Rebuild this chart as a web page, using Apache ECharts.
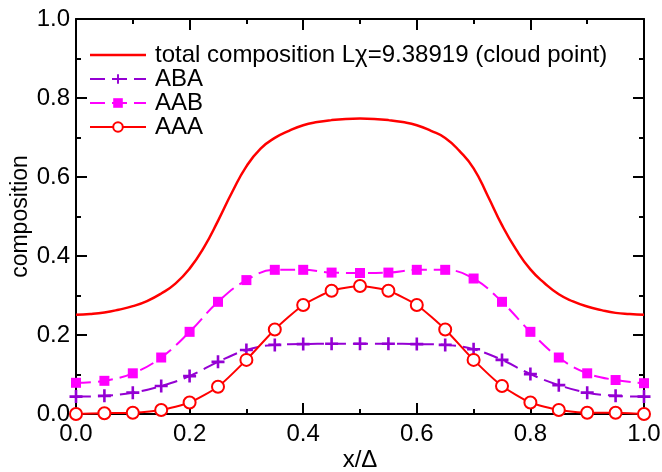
<!DOCTYPE html>
<html>
<head>
<meta charset="utf-8">
<script src="https://cdn.jsdelivr.net/npm/echarts@6/dist/echarts.min.js"></script>
<style>
  html, body { margin: 0; padding: 0; background: #fff; }
  #chart { width: 662px; height: 472px; }
</style>
</head>
<body>
<div id="chart"></div>
<script>
// ---- data ----
const xMarkers = [0.00,0.05,0.10,0.15,0.20,0.25,0.30,0.35,0.40,0.45,0.50,0.55,0.60,0.65,0.70,0.75,0.80,0.85,0.90,0.95,1.00];
const ABA = [0.044,0.046,0.054,0.071,0.096,0.132,0.162,0.175,0.177,0.178,0.178,0.178,0.177,0.175,0.164,0.137,0.101,0.073,0.054,0.046,0.044];
const AAB = [0.079,0.084,0.103,0.143,0.208,0.284,0.339,0.365,0.365,0.358,0.357,0.358,0.365,0.365,0.343,0.284,0.208,0.143,0.103,0.086,0.078];
const AAA = [0.000,0.002,0.003,0.010,0.029,0.069,0.137,0.214,0.276,0.312,0.324,0.312,0.276,0.214,0.137,0.071,0.029,0.010,0.003,0.003,0.000];

const totalX = [0.000,0.025,0.050,0.075,0.100,0.125,0.150,0.175,0.200,0.225,0.250,0.275,0.300,0.325,0.350,0.375,0.400,0.425,0.450,0.475,0.500,
                0.525,0.550,0.575,0.600,0.625,0.650,0.675,0.700,0.725,0.750,0.775,0.800,0.825,0.850,0.875,0.900,0.925,0.950,0.975,1.000];
const totalY = [0.251,0.253,0.257,0.264,0.273,0.286,0.305,0.330,0.368,0.421,0.489,0.562,0.627,0.672,0.699,0.717,0.731,0.739,0.744,0.747,0.748,
                0.747,0.744,0.739,0.731,0.717,0.699,0.666,0.622,0.552,0.478,0.416,0.366,0.331,0.303,0.285,0.272,0.263,0.256,0.253,0.251];

const xTicks = { min: 0, max: 1, interval: 0.2 };
const yTicks = { min: 0, max: 1, interval: 0.2 };

const seriesNames = ['total composition L\u03c7=9.38919 (cloud point)', 'ABA', 'AAB', 'AAA'];
const xTitle = 'x/\u0394';
const yTitle = 'composition';

// ---- chart ----
const FONT = '"Liberation Sans", Arial, Helvetica, sans-serif';
const pair = (xs, ys) => xs.map((x, i) => [x, ys[i]]);
const plusPath = 'path://M4,0H6V4H10V6H6V10H4V6H0V4H4Z';

function axisCommon(extra) {
  return Object.assign({
    type: 'value',
    axisLine: { show: true, onZero: false, lineStyle: { color: '#000', width: 2 } },
    axisTick: { show: true, inside: true, length: 11, lineStyle: { color: '#000', width: 2 } },
    minorTick: { show: true, splitNumber: 2, length: 5, lineStyle: { color: '#000', width: 2 } },
    splitLine: { show: false },
    minorSplitLine: { show: false }
  }, extra);
}

const chart = echarts.init(document.getElementById('chart'), null, { renderer: 'canvas' });
chart.setOption({
  animation: false,
  backgroundColor: '#fff',
  grid: { left: 76, right: 18, top: 19, bottom: 58, containLabel: false, outerBoundsMode: 'none' },
  legend: {
    orient: 'vertical',
    left: 84,
    top: 38,
    itemWidth: 56,
    itemHeight: 12,
    itemGap: 0,
    data: [
      { name: seriesNames[0], icon: 'path://M0,0H56V2.5H0Z' },
      seriesNames[1], seriesNames[2], seriesNames[3]
    ],
    textStyle: { fontSize: 24, color: '#000', fontFamily: FONT, lineHeight: 24, padding: [0, 0, 0, 4] }
  },
  xAxis: [
    axisCommon({
      position: 'bottom', min: xTicks.min, max: xTicks.max, interval: xTicks.interval,
      axisLabel: { fontSize: 24, color: '#000', fontFamily: FONT, margin: 8, formatter: v => v.toFixed(1) },
      name: xTitle, nameLocation: 'middle', nameGap: 34, nameMoveOverlap: false,
      nameTextStyle: { fontSize: 24, color: '#000', fontFamily: FONT }
    }),
    axisCommon({
      position: 'top', min: xTicks.min, max: xTicks.max, interval: xTicks.interval,
      axisLabel: { show: false }
    })
  ],
  yAxis: [
    axisCommon({
      position: 'left', min: yTicks.min, max: yTicks.max, interval: yTicks.interval,
      axisLabel: { fontSize: 24, color: '#000', fontFamily: FONT, margin: 6, formatter: v => v.toFixed(1) },
      name: yTitle, nameLocation: 'middle', nameGap: 44, nameMoveOverlap: false,
      nameTextStyle: { fontSize: 23, color: '#000', fontFamily: FONT }
    }),
    axisCommon({
      position: 'right', min: yTicks.min, max: yTicks.max, interval: yTicks.interval,
      axisLabel: { show: false }
    })
  ],
  series: [
    {
      name: seriesNames[0], type: 'line', xAxisIndex: 0, yAxisIndex: 0,
      data: pair(totalX, totalY), smooth: 0.5, symbol: 'none', showSymbol: false,
      itemStyle: { color: '#ff0000' },
      lineStyle: { color: '#ff0000', width: 2.5 }
    },
    {
      name: seriesNames[1], type: 'line', xAxisIndex: 0, yAxisIndex: 0,
      data: pair(xMarkers, ABA), smooth: 0.4, symbol: plusPath, symbolSize: 13,
      itemStyle: { color: '#9400d3' },
      lineStyle: { color: '#9400d3', width: 2, type: [15, 7] }
    },
    {
      name: seriesNames[2], type: 'line', xAxisIndex: 0, yAxisIndex: 0,
      data: pair(xMarkers, AAB), smooth: 0.4, symbol: 'rect', symbolSize: 10,
      itemStyle: { color: '#ff00ff' },
      lineStyle: { color: '#ff00ff', width: 2, type: [15, 7] }
    },
    {
      name: seriesNames[3], type: 'line', xAxisIndex: 0, yAxisIndex: 0,
      data: pair(xMarkers, AAA), smooth: 0.2, symbol: 'emptyCircle', symbolSize: 12,
      itemStyle: { color: '#ff0000', borderWidth: 2 },
      lineStyle: { color: '#ff0000', width: 2 }
    }
  ]
});
</script>
</body>
</html>
